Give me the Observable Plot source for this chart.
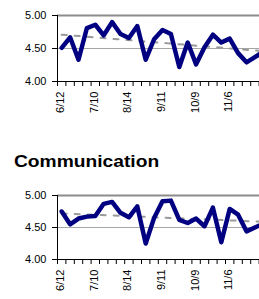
<!DOCTYPE html>
<html><head><meta charset="utf-8">
<script src="https://cdn.jsdelivr.net/npm/d3@7"></script>
<script src="https://cdn.jsdelivr.net/npm/@observablehq/plot@0.6"></script>
<style>
html,body{margin:0;padding:0;overflow:hidden;background:#fff}
body{width:259px;height:299px;position:relative;font-family:Arial,"Liberation Sans",sans-serif}
#top,#bottom{position:absolute;left:0;width:268px}
#top{top:0}
#bottom{top:180px}
#title{position:absolute;left:14px;top:153px;font:bold 17px/17px Arial,"Liberation Sans",sans-serif;transform:scaleX(1.13);transform-origin:left;white-space:nowrap;color:#000}
</style></head><body>
<div id="top"></div><div id="title">Communication</div><div id="bottom"></div>
<script>
const dates = ["6/12","6/19","6/26","7/3","7/10","7/17","7/24","7/31","8/14","8/21","8/28","9/4","9/11","9/18","9/25","10/2","10/9","10/16","10/23","10/30","11/6","11/13","11/20","11/27","12/4"];
const labelIndex = [0, 4, 8, 12, 16, 20];
const overallValues = [4.51, 4.67, 4.33, 4.81, 4.86, 4.70, 4.90, 4.72, 4.66, 4.84, 4.33, 4.64, 4.78, 4.72, 4.22, 4.59, 4.26, 4.52, 4.71, 4.59, 4.65, 4.43, 4.29, 4.37, 4.45];
const overallTrend = [4.71, 4.46];
const commValues = [4.75, 4.55, 4.64, 4.67, 4.68, 4.87, 4.90, 4.73, 4.66, 4.83, 4.25, 4.65, 4.91, 4.92, 4.62, 4.57, 4.64, 4.52, 4.81, 4.27, 4.79, 4.70, 4.44, 4.50, 4.56];
const commTrend = [4.72, 4.59];
const yTicks = [4.0, 4.5, 5.0];

function panel(values, trend, height, marginBottom) {
  const data = values.map((v, i) => ({i, v}));
  const trendData = [{i: 0, v: trend[0]}, {i: values.length - 1, v: trend[1]}];
  const bounds = d3.range(dates.length + 1).map(k => k - 0.5);
  return Plot.plot({
    width: 268, height, marginLeft: 57, marginRight: 1, marginTop: 15, marginBottom,
    style: {fontFamily: "Arial, 'Liberation Sans', sans-serif", fontSize: "11px", color: "#000", background: "transparent", overflow: "visible", maxWidth: "none"},
    x: {domain: [-0.5, dates.length - 0.5], axis: null, label: null},
    y: {domain: [4, 5], axis: null, label: null},
    marks: [
      Plot.ruleY([4.5], {stroke: "#a6a6a6", strokeWidth: 1}),
      Plot.ruleY([5], {stroke: "#8c8c8c", strokeWidth: 2}),
      Plot.line(trendData, {x: "i", y: "v", stroke: "#999", strokeWidth: 2, strokeDasharray: "5,8"}),
      Plot.line(data, {x: "i", y: "v", stroke: "#000080", strokeWidth: 4.5, strokeLinejoin: "round", strokeLinecap: "round"}),
      Plot.ruleX([-0.5], {y1: 4, y2: 5, stroke: "#000"}),
      Plot.ruleY([4], {stroke: "#000"}),
      Plot.axisY(yTicks, {tickSize: 5, tickPadding: 6, tickFormat: d3.format(".2f"), label: null, stroke: "#000", fill: "#000"}),
      Plot.axisX(bounds, {tickSize: 5, tickFormat: () => "", label: null, stroke: "#000"}),
      Plot.axisX(labelIndex, {tickSize: 0, tickPadding: 10, tickRotate: -90, tickFormat: i => dates[i], label: null, fill: "#000", dx: -1})
    ]
  });
}
document.getElementById("top").appendChild(panel(overallValues, overallTrend, 112, 31));
document.getElementById("bottom").appendChild(panel(commValues, commTrend, 120, 41));
</script>
</body></html>
